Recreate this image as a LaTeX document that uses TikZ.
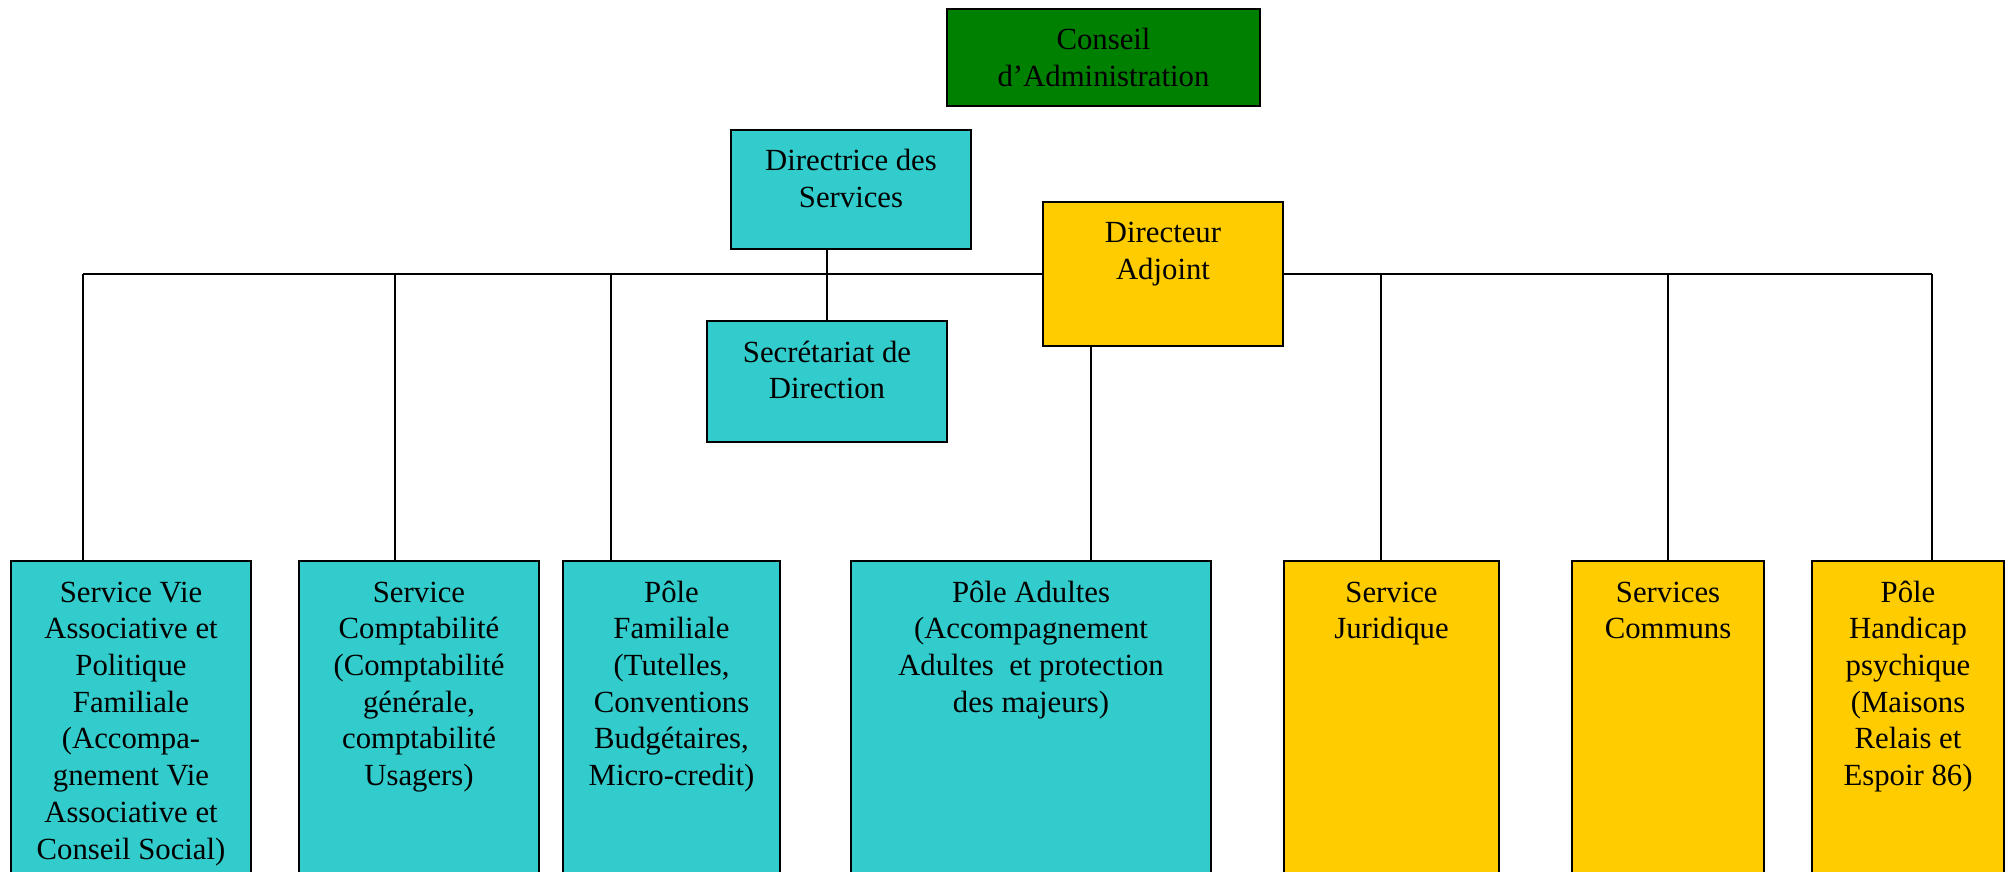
\documentclass[tikz,border=0pt]{standalone}
\usepackage{fontspec}
\setmainfont{Liberation Serif}
\usetikzlibrary{positioning,calc,backgrounds}

\definecolor{boardgreen}{RGB}{0,128,0}
\definecolor{unitcyan}{RGB}{51,204,204}
\definecolor{unitgold}{RGB}{255,204,0}

% text hung from the top of its box
\newcommand{\toplines}[1]{\begin{tabular}[t]{@{}c@{}}#1\end{tabular}}

\begin{document}
\begin{tikzpicture}[
    font=\fontsize{17.5}{20.9}\selectfont,
    unit/.style={draw=black, line width=1.2pt, anchor=north west, outer sep=0pt,
      inner xsep=2pt, inner ysep=0.3cm, text height=0.52cm},
    cyanunit/.style={unit, fill=unitcyan},
    goldunit/.style={unit, fill=unitgold},
    row/.style={text depth=5.28cm},
    link/.style={draw=black, line width=0.9pt}
  ]
  \useasboundingbox (0,0) rectangle (40.3,-17.44);

  % top of the chart
  \node[unit, fill=boardgreen, minimum width=6.26cm, text depth=0.82cm] (board) at (18.94,-0.18)
    {\toplines{Conseil\\d’Administration}};
  \node[cyanunit, minimum width=4.8cm, text depth=1.26cm] (dirs) at (14.62,-2.6)
    {\toplines{Directrice des\\Services}};
  \node[goldunit, minimum width=4.8cm, text depth=1.76cm] (adj) at (20.86,-4.04)
    {\toplines{Directeur\\Adjoint}};
  \node[cyanunit, minimum width=4.8cm, text depth=1.30cm] (secr) at (14.14,-6.42)
    {\toplines{Secrétariat de\\Direction}};

  % services and poles
  \node[cyanunit, row, minimum width=4.8cm] (vie) at (0.22,-11.22)
    {\toplines{Service Vie\\Associative et\\Politique\\Familiale\\(Accompa-\\gnement Vie\\Associative et\\Conseil Social)}};
  \node[cyanunit, row, minimum width=4.8cm, right=0.96cm of vie] (compta)
    {\toplines{Service\\Comptabilité\\(Comptabilité\\générale,\\comptabilité\\Usagers)}};
  \node[cyanunit, row, minimum width=4.34cm, right=0.48cm of compta] (famille)
    {\toplines{Pôle\\Familiale\\(Tutelles,\\Conventions\\Budgétaires,\\Micro-credit)}};
  \node[cyanunit, row, minimum width=7.2cm, right=1.42cm of famille] (adultes)
    {\toplines{Pôle Adultes\\(Accompagnement\\Adultes\ \ et protection\\des majeurs)}};
  \node[goldunit, row, minimum width=4.3cm, right=1.46cm of adultes] (juridique)
    {\toplines{Service\\Juridique}};
  \node[goldunit, row, minimum width=3.84cm, right=1.46cm of juridique] (communs)
    {\toplines{Services\\Communs}};
  \node[goldunit, row, minimum width=3.84cm, right=0.96cm of communs] (handicap)
    {\toplines{Pôle\\Handicap\\psychique\\(Maisons\\Relais et\\Espoir 86)}};

  \begin{scope}[on background layer]
    \coordinate (bus) at (0,-5.48);
    \foreach \n/\f in {vie/0.3, compta/0.4, famille/0.22, adultes/0.667,
                       juridique/0.45, communs/0.5, handicap/0.625}
      \path ($(\n.north west)!\f!(\n.north east)$) coordinate (\n-in);
    \foreach \n in {vie, compta, famille, juridique, communs, handicap}
      \draw[link] (\n-in) -- (\n-in |- bus);
    \draw[link] (vie-in |- bus) -- (handicap-in |- bus);
    \draw[link] (adultes-in) -- (adultes-in |- adj.south);
    \draw[link] (secr.north) -- (secr.north |- dirs.south);
  \end{scope}
\end{tikzpicture}
\end{document}
